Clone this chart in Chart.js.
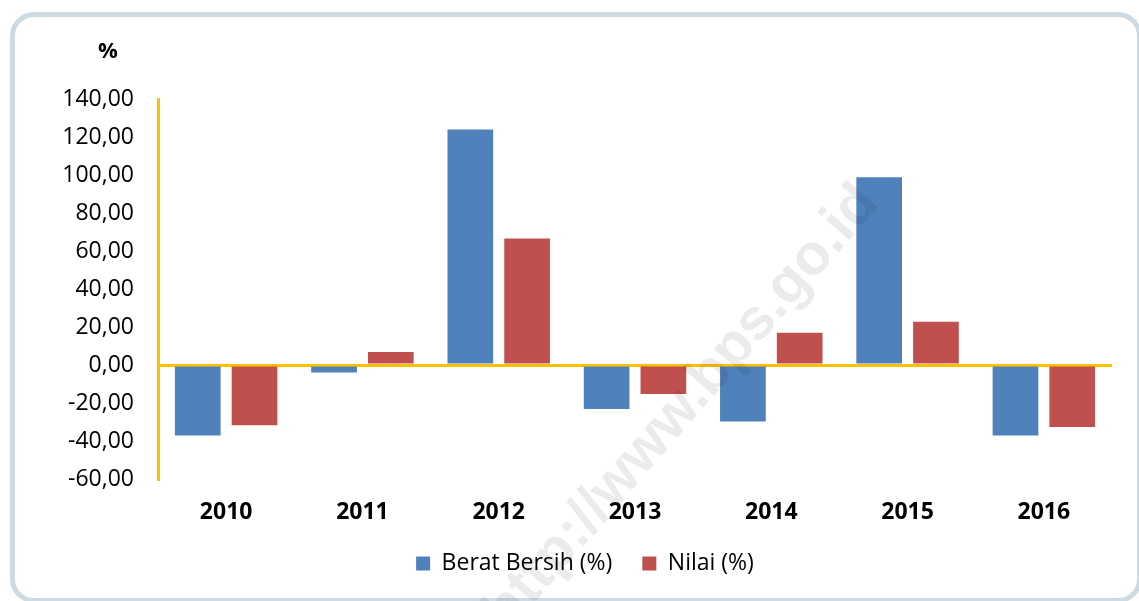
<!DOCTYPE html>
<html>
<head>
<meta charset="utf-8">
<script src="https://cdn.jsdelivr.net/npm/chart.js@4.4.0/dist/chart.umd.min.js"></script>
<style>
  html, body { margin: 0; padding: 0; background: #fff; }
  #wrap { position: relative; width: 1139px; height: 601px; overflow: hidden; }
  #frame {
    position: absolute; left: 10px; top: 12px; width: 1132px; height: 591px;
    box-sizing: border-box; border: 5px solid #CEDAE2; border-radius: 24px;
  }
  #c { position: absolute; left: 0; top: 0; }
</style>
</head>
<body>
<div id="wrap">
  <div id="frame"></div>
  <canvas id="c" width="1139" height="601"></canvas>
</div>
<script>
const years = ['2010', '2011', '2012', '2013', '2014', '2015', '2016'];
const beratBersih = [-37.1, -3.9, 124.0, -23.1, -29.8, 98.8, -37.1];
const nilai = [-31.7, 6.9, 66.6, -15.2, 17.0, 22.7, -32.6];
const unitLabel = '%';
const watermark = 'http://www.bps.go.id';

const FONT = '"Open Sans", sans-serif';

// "%" above the value axis and the faint site watermark
const extras = {
  id: 'extras',
  afterDraw(chart) {
    const c = chart.ctx;
    const y = chart.scales.y;
    c.save();
    c.fillStyle = '#000';
    c.font = 'bold 22px ' + FONT;
    c.textAlign = 'center';
    c.textBaseline = 'middle';
    c.fillText(unitLabel, y.left + 50, 52);
    c.restore();

    c.save();
    c.translate(682, 408);
    c.rotate(-49 * Math.PI / 180);
    c.fillStyle = 'rgba(0,0,0,0.08)';
    c.font = 'bold 58px "Liberation Sans", sans-serif';
    c.textAlign = 'center';
    c.textBaseline = 'middle';
    c.fillText(watermark, 0, 0);
    c.restore();
  }
};

new Chart(document.getElementById('c').getContext('2d'), {
  type: 'bar',
  data: {
    labels: years,
    datasets: [
      { label: 'Berat Bersih (%)', data: beratBersih, backgroundColor: '#4F81BD' },
      { label: 'Nilai (%)', data: nilai, backgroundColor: '#C0504D' }
    ]
  },
  options: {
    responsive: false,
    animation: false,
    categoryPercentage: 0.833,
    barPercentage: 0.805,
    layout: { padding: { left: 58, right: 27, top: 99, bottom: 16 } },
    plugins: {
      tooltip: { enabled: false },
      legend: {
        position: 'bottom',
        labels: {
          boxWidth: 14, boxHeight: 14, padding: 30,
          color: '#000', font: { family: FONT, size: 23 }
        }
      }
    },
    scales: {
      x: {
        afterFit(scale) { scale.height = 43; },
        grid: { display: false, drawTicks: false },
        border: { display: false },
        ticks: { color: '#000', padding: 20, font: { family: FONT, size: 23, weight: 'bold' } }
      },
      y: {
        min: -60, max: 140,
        afterFit(scale) { scale.width = 100; },
        grid: {
          drawTicks: false,
          lineWidth: 3,
          color: ctx => (ctx.tick && ctx.tick.value === 0) ? '#FFC000' : 'rgba(0,0,0,0)'
        },
        border: { display: true, color: '#FFC000', width: 3 },
        ticks: {
          stepSize: 20, padding: 24, color: '#000',
          font: { family: FONT, size: 23 },
          callback: v => v.toFixed(2).replace('.', ',')
        }
      }
    }
  },
  plugins: [extras]
});
</script>
</body>
</html>
